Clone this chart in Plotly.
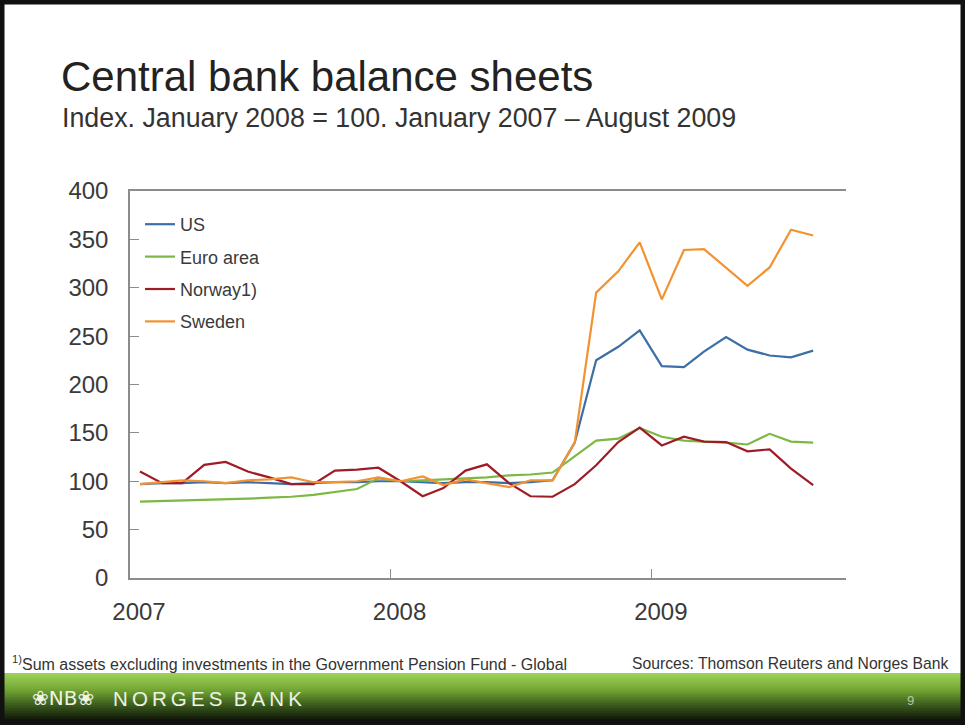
import plotly.graph_objects as go

# ---------------- data ----------------
months = [f"{y}-{m:02d}-15" for y in (2007, 2008, 2009) for m in range(1, 13)][:32]  # Jan 2007 - Aug 2009

us = [97, 98, 98, 99, 98, 99, 98, 97, 98, 99, 99, 100,
      100, 99, 98, 99, 99, 98, 99, 101, 140, 225, 239, 256,
      219, 218, 234, 249, 236, 230, 228, 235]
euro = [79, 79.5, 80.5, 81, 81, 82, 83, 84, 86, 89, 92, 103,
        100, 101, 102, 103, 104, 106, 107, 109, 126, 142, 144, 155,
        146, 142, 141, 140, 138, 149, 141, 140]
norway = [110, 98, 98, 117, 120, 110, 104, 97, 97, 111, 112, 114,
          100, 84.5, 93, 111, 117.5, 98, 84.5, 84, 97, 116.5, 140.5, 155.5,
          137, 146, 141, 140.5, 131, 133, 113, 96]
sweden = [97, 99, 101, 100, 98, 101, 102, 104, 99, 99, 100, 104,
          100, 105, 96, 102, 98, 94, 101, 101, 140, 295, 317, 347,
          288, 339, 340, 321, 302, 321, 360, 354]

series_names = ["US", "Euro area", "Norway1)", "Sweden"]
series_values = [us, euro, norway, sweden]
series_colors = ["#3c6fa6", "#7cb843", "#9e1c26", "#f29231"]

year_ticks = ["2007-01-01", "2008-01-01", "2009-01-01"]
year_labels = ["2007", "2008", "2009"]
y_ticks = [0, 50, 100, 150, 200, 250, 300, 350, 400]

# ---------------- layout helpers ----------------
W, H = 965, 725
L, R, T, B = 130, 846, 191, 578


def px_x(x):
    return (x - L) / (R - L)


def px_y(y):
    return (B - y) / (B - T)


FONT = "Liberation Sans"
AX = "#8c8c8c"
TXT = "#3a3a3a"

fig = go.Figure()
for name, vals, col in zip(series_names, series_values, series_colors):
    fig.add_trace(go.Scatter(x=months, y=vals, name=name, mode="lines",
                             legendgroup=name,
                             line=dict(color=col, width=2.2)))

fig.update_layout(
    width=W, height=H,
    margin=dict(l=L, r=W - R, t=T, b=H - B),
    paper_bgcolor="white", plot_bgcolor="white",
    font=dict(family=FONT, color=TXT),
    showlegend=True,
    legend=dict(x=px_x(140), y=px_y(206), xanchor="left", yanchor="top",
                font=dict(size=18, color=TXT), bgcolor="rgba(0,0,0,0)",
                tracegroupgap=6, itemwidth=30),
    xaxis=dict(type="date", range=["2007-01-01", "2009-09-30"],
               tickvals=year_ticks, ticktext=year_labels,
               showgrid=False, zeroline=False,
               showline=True, linecolor=AX, linewidth=1.5, mirror=True,
               ticks="inside", ticklen=9, tickcolor=AX, tickwidth=1.2,
               tickfont=dict(size=24, color=TXT),
               ticklabelstandoff=11, ticklabelshift=9),
    yaxis=dict(range=[0, 400], tickvals=y_ticks,
               showgrid=False, zeroline=False,
               showline=True, linecolor=AX, linewidth=1.5,
               ticks="inside", ticklen=9, tickcolor=AX, tickwidth=1.2,
               tickfont=dict(size=24, color=TXT), ticklabelstandoff=15),
    yaxis2=dict(range=[0, 400], tickvals=y_ticks, overlaying="y", side="right",
                showgrid=False, zeroline=False,
                showline=True, linecolor=AX, linewidth=1.5,
                ticks="inside", ticklen=9, tickcolor=AX, tickwidth=1.2,
                tickfont=dict(size=24, color=TXT), ticklabelstandoff=16),
)

TS = "\u2009"
annotations = [
    dict(text="Central bank balance sheets", x=px_x(59), y=px_y(76),
         font=dict(size=42, color="#222222")),
    dict(text="Index. January 2008 = 100. January 2007 \u2013 August 2009",
         x=px_x(60), y=px_y(118), font=dict(size=26.8, color="#333333")),
    dict(text="<sup>1)</sup>Sum assets excluding investments in the Government Pension Fund - Global",
         x=px_x(10), y=px_y(663), font=dict(size=16, color="#333333")),
    dict(text="Sources: Thomson Reuters and Norges Bank", x=px_x(950), y=px_y(663),
         xanchor="right", font=dict(size=15.7, color="#333333")),
    dict(text="\u2740NB\u2740", x=px_x(30), y=px_y(698),
         font=dict(size=20, color="#eef3e6", family="DejaVu Sans")),
    dict(text=TS.join("NORGES") + "  " + TS.join("BANK"), x=px_x(111), y=px_y(698),
         font=dict(size=20.5, color="#eef3e6")),
    dict(text="9", x=px_x(905), y=px_y(700),
         font=dict(size=13, color="#b8c4a8")),
]
for a in annotations:
    a.setdefault("xanchor", "left")
    a.update(xref="paper", yref="paper", yanchor="middle", showarrow=False)
fig.update_layout(annotations=annotations)

# banner gradient (stacked strips)
stops = [(0.0, (156, 208, 88)), (0.35, (114, 164, 52)),
         (0.65, (62, 96, 32)), (1.0, (16, 22, 10))]


def grad(t):
    for (t0, c0), (t1, c1) in zip(stops[:-1], stops[1:]):
        if t <= t1:
            f = (t - t0) / (t1 - t0)
            return "rgb(%d,%d,%d)" % tuple(round(a + (b - a) * f) for a, b in zip(c0, c1))
    return "rgb(%d,%d,%d)" % stops[-1][1]


shapes = []
top, bot, n = 673, 721, 24
for i in range(n):
    y0 = top + (bot - top) * i / n
    y1 = top + (bot - top) * (i + 1) / n + 0.6
    shapes.append(dict(type="rect", xref="paper", yref="paper", layer="below",
                       x0=px_x(0), x1=px_x(W), y0=px_y(y1), y1=px_y(y0),
                       fillcolor=grad(i / (n - 1)), line=dict(width=0)))
# black slide frame
shapes.append(dict(type="rect", xref="paper", yref="paper",
                   x0=px_x(0), x1=px_x(W), y0=px_y(H), y1=px_y(0),
                   line=dict(color="#111111", width=9), fillcolor="rgba(0,0,0,0)"))
fig.update_layout(shapes=shapes)

fig.write_html("out.html", config={"displayModeBar": False},
               post_script="document.body.style.margin='0';document.body.style.overflow='hidden';")
